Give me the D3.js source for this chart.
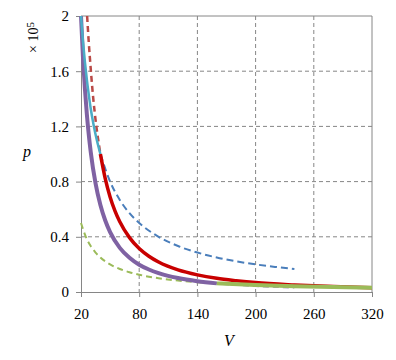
<!DOCTYPE html>
<html><head><meta charset="utf-8">
<script src="https://cdn.jsdelivr.net/npm/d3@7"></script>
<style>body{margin:0;background:#fff}svg{display:block}</style>
</head><body>
<svg id="c" width="396" height="360"></svg>
<script>
// Data (p in units of 1e5)
const xTicks = [20, 80, 140, 200, 260, 320];
const yTicks = [0, 0.4, 0.8, 1.2, 1.6, 2];
const cyanV = [20, 22, 24, 26, 28, 30, 33, 36, 40];
const cyanP = [2.0, 1.82, 1.67, 1.54, 1.43, 1.33, 1.21, 1.11, 1.0];
const blueV = [40, 50, 60, 70, 80, 100, 120, 140, 160, 180, 200, 220, 240];
const blueP = [1.0, 0.8, 0.667, 0.571, 0.5, 0.4, 0.333, 0.286, 0.25, 0.222, 0.2, 0.182, 0.167];
const redDashV = [26.3, 28, 30, 32, 34, 36, 38, 40];
const redDashP = [2.0, 1.81, 1.62, 1.45, 1.31, 1.19, 1.09, 1.0];
const redV = [40, 45, 50, 55, 60, 70, 80, 90, 100, 120, 140, 160, 180, 200, 240, 280, 320];
const redP = [1.0, 0.822, 0.689, 0.588, 0.509, 0.394, 0.315, 0.259, 0.217, 0.160, 0.124, 0.099, 0.082, 0.068, 0.051, 0.039, 0.031];
const purV = [20, 22, 24, 26, 28, 30, 35, 40, 45, 50, 60, 70, 80, 90, 100, 120, 140, 160];
const purP = [2.0, 1.706, 1.476, 1.291, 1.141, 1.017, 0.787, 0.630, 0.518, 0.434, 0.320, 0.248, 0.198, 0.163, 0.137, 0.101, 0.078, 0.0625];
const purDashV = [160, 180, 200, 220, 240];
const purDashP = [0.0625, 0.0513, 0.0431, 0.0368, 0.0318];
const grnDashV = [20, 25, 30, 35, 40, 50, 60, 70, 80, 100, 120, 140, 160];
const grnDashP = [0.5, 0.4, 0.333, 0.286, 0.25, 0.2, 0.167, 0.143, 0.125, 0.1, 0.083, 0.071, 0.0625];
const grnV = [160, 200, 240, 280, 320];
const grnP = [0.0625, 0.05, 0.0417, 0.0357, 0.03125];

const svg = d3.select('#c');
const x = d3.scaleLinear().domain([20, 320]).range([81, 372]);
const y = d3.scaleLinear().domain([0, 2]).range([292, 16]);
const gray = '#868686';
const serif = '"Liberation Serif", "Times New Roman", serif';

// grid
const g = svg.append('g');
g.selectAll('.vg').data(xTicks.slice(1, -1)).enter().append('line')
  .attr('x1', d => x(d)).attr('x2', d => x(d)).attr('y1', y(2)).attr('y2', y(0))
  .attr('stroke', gray).attr('stroke-dasharray', '4,3').attr('stroke-width', 1);
g.selectAll('.hg').data(yTicks.slice(1, -1)).enter().append('line')
  .attr('y1', d => y(d)).attr('y2', d => y(d)).attr('x1', x(20)).attr('x2', x(320))
  .attr('stroke', gray).attr('stroke-dasharray', '4,3').attr('stroke-width', 1);
// border top/right
g.append('line').attr('x1', x(20)).attr('x2', x(320)).attr('y1', y(2)).attr('y2', y(2)).attr('stroke', gray);
g.append('line').attr('x1', x(320)).attr('x2', x(320)).attr('y1', y(2)).attr('y2', y(0)).attr('stroke', gray);

// axes
const xa = svg.append('g').attr('transform', `translate(0,${y(0)})`)
  .call(d3.axisBottom(x).tickValues(xTicks).tickSize(5).tickPadding(11).tickFormat(d3.format('d')));
const ya = svg.append('g').attr('transform', `translate(${x(20)},0)`)
  .call(d3.axisLeft(y).tickValues(yTicks).tickSize(5).tickPadding(7).tickFormat(d => String(d)));
[xa, ya].forEach(a => {
  a.select('.domain').attr('stroke', gray);
  a.selectAll('.tick line').attr('stroke', gray);
  a.selectAll('text').attr('font-family', serif).attr('font-size', 15).attr('fill', '#000');
});

// curves
const line = d3.line().x(d => x(d[0])).y(d => y(d[1])).curve(d3.curveMonotoneX);
const zip = (a, b) => a.map((v, i) => [v, b[i]]);
svg.append('clipPath').attr('id', 'cl').append('rect')
  .attr('x', x(20) - 3).attr('y', y(2)).attr('width', x(320) - x(20) + 3).attr('height', y(0) - y(2));
const L = svg.append('g').attr('clip-path', 'url(#cl)');
function draw(V, P, color, w, dash) {
  L.append('path').attr('d', line(zip(V, P))).attr('fill', 'none')
    .attr('stroke', color).attr('stroke-width', w)
    .attr('stroke-dasharray', dash || null).attr('stroke-linecap', 'butt').attr('stroke-linejoin', 'round');
}
draw(blueV, blueP, '#4A7EBB', 2, '7,4');
draw(grnDashV, grnDashP, '#9BBB59', 2, '6,4');
draw(purV.concat(purDashV.slice(1)), purP.concat(purDashP.slice(1)), '#A592C4', 2, '6,4');
draw(purV, purP, '#7F62A3', 4);
draw(redDashV, redDashP, '#BA4A47', 2.5, '6,4');
draw(redV, redP, '#C80000', 3.5);
draw(cyanV, cyanP, '#4BACC6', 2.5);
draw(grnV, grnP, '#9BBB59', 4);

// labels
svg.append('text').attr('x', 27).attr('y', 157).attr('text-anchor', 'middle')
  .attr('font-family', serif).attr('font-style', 'italic').attr('font-size', 16).text('p');
svg.append('text').attr('x', 229).attr('y', 346).attr('text-anchor', 'middle')
  .attr('font-family', serif).attr('font-style', 'italic').attr('font-size', 16).text('V');
const tg = svg.append('g').attr('transform', 'translate(38,53) rotate(-90)');
const t = tg.append('text').attr('x', 0).attr('y', 0)
  .attr('font-family', serif).attr('font-size', 14);
t.append('tspan').text('× 10');
t.append('tspan').attr('font-size', 11).attr('dy', -4).text('5');
</script>
</body></html>
